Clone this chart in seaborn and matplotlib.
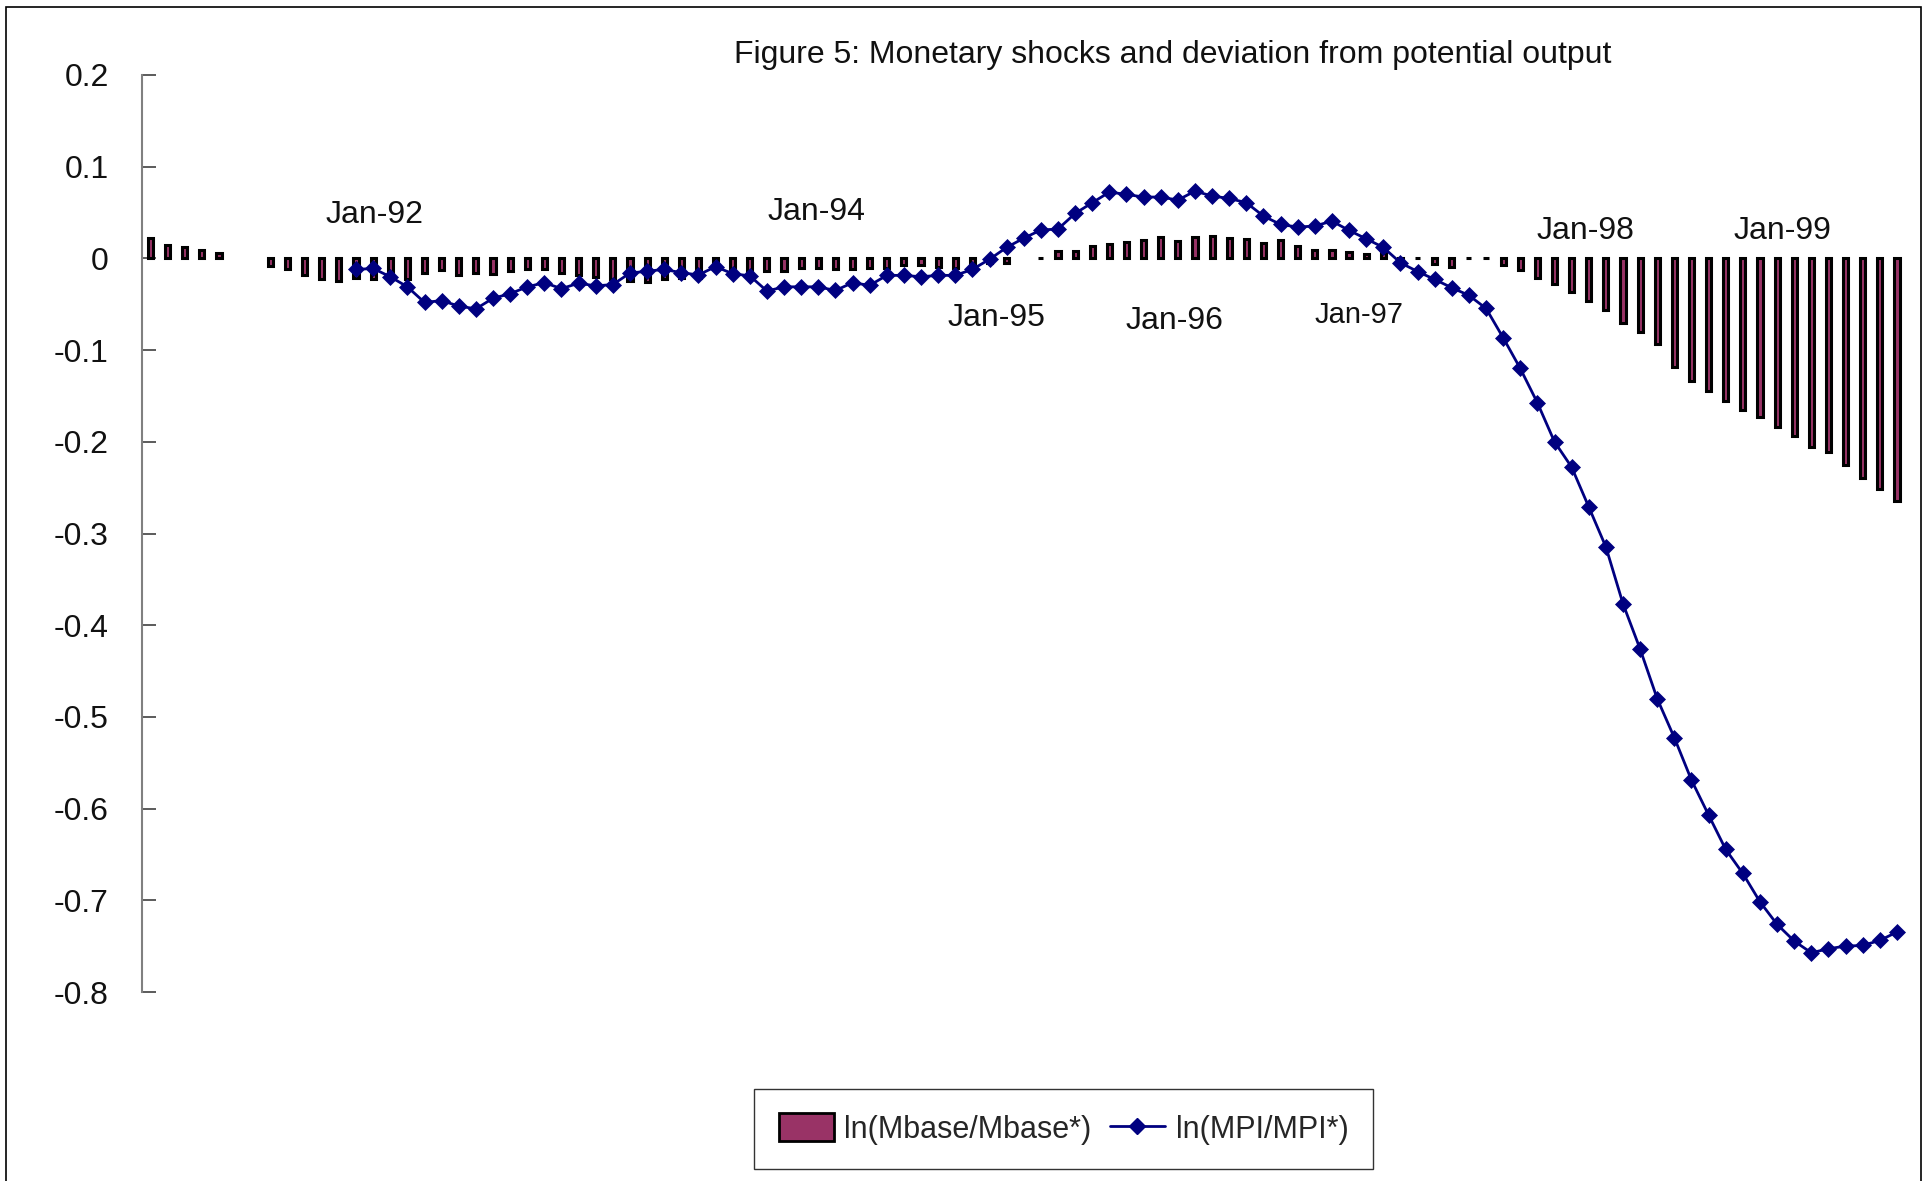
import numpy as np
import pandas as pd
import matplotlib
matplotlib.use("Agg")
import matplotlib.pyplot as plt
from matplotlib.patches import Patch, Rectangle
from matplotlib.lines import Line2D
import seaborn as sns

mbase_gap = [
    0.022, 0.0145, 0.012, 0.0087, 0.0058, np.nan, np.nan, -0.008, -0.012, -0.0185,
    -0.022, -0.025, -0.021, -0.022, -0.021, -0.022, -0.016, -0.0125, -0.0185, -0.0155,
    -0.017, -0.014, -0.012, -0.0115, -0.016, -0.018, -0.02, -0.0225, -0.025, -0.026,
    -0.023, -0.021, -0.021, -0.011, -0.016, -0.016, -0.014, -0.0138, -0.010, -0.010,
    -0.012, -0.012, -0.010, -0.010, -0.0076, -0.0076, -0.009, -0.010, -0.0076, -0.005,
    -0.005, np.nan, 0.0, 0.008, 0.0084, 0.013, 0.0156, 0.0175, 0.020, 0.0236,
    0.019, 0.023, 0.0247, 0.022, 0.021, 0.0167, 0.020, 0.0138, 0.009, 0.009,
    0.0065, 0.0047, 0.0055, -0.003, 0.0, -0.0065, -0.0098, 0.0, 0.0, -0.0069,
    -0.0128, -0.021, -0.028, -0.0363, -0.046, -0.056, -0.0707, -0.0805, -0.0936, -0.1185,
    -0.134, -0.145, -0.155, -0.165, -0.173, -0.184, -0.194, -0.206, -0.211, -0.225,
    -0.2395, -0.251, -0.265,
]

mpi_gap = [np.nan] * 12 + [
    -0.012, -0.011, -0.020, -0.031, -0.048, -0.046, -0.052, -0.055,
    -0.0435, -0.0385, -0.031, -0.0265, -0.033, -0.027, -0.030, -0.0285, -0.016, -0.014,
    -0.012, -0.0156, -0.018, -0.009, -0.0167, -0.019, -0.0356, -0.031, -0.031, -0.031,
    -0.035, -0.0265, -0.0294, -0.0185, -0.0185, -0.020, -0.0185, -0.0185, -0.012, -0.001,
    0.012, 0.022, 0.031, 0.032, 0.049, 0.0607, 0.0723, 0.0698, 0.0669, 0.0669,
    0.0636, 0.0734, 0.068, 0.0654, 0.0607, 0.0462, 0.037, 0.0342, 0.0353, 0.0407,
    0.0305, 0.0214, 0.012, -0.0047, -0.0143, -0.0229, -0.032, -0.0403, -0.0545, -0.0865,
    -0.120, -0.1574, -0.200, -0.2276, -0.271, -0.3146, -0.3766, -0.426, -0.4802, -0.5227,
    -0.5689, -0.607, -0.6445, -0.6707, -0.7016, -0.7262, -0.7444, -0.7572, -0.7528, -0.7499,
    -0.7492, -0.7437, -0.7346,
]

month_idx = list(range(len(mbase_gap)))

# Date labels placed inside the chart
date_labels = ["Jan-92", "Jan-94", "Jan-95", "Jan-96", "Jan-97", "Jan-98", "Jan-99"]
date_label_x = [13.1, 38.9, 49.4, 59.8, 70.6, 83.8, 95.3]
date_label_y = [0.047, 0.051, -0.065, -0.068, -0.062, 0.030, 0.030]

y_ticks = [0.2, 0.1, 0, -0.1, -0.2, -0.3, -0.4, -0.5, -0.6, -0.7, -0.8]

bar_color = "#993366"
line_color = "#000080"

sns.set_style("white")
plt.rcParams["font.family"] = ["Liberation Sans", "DejaVu Sans"]

df = pd.DataFrame({"month": month_idx, "mbase": mbase_gap, "mpi": mpi_gap})

fig = plt.figure(figsize=(19.3, 11.81), dpi=100)
ax = fig.add_axes([142 / 1930, 0.16, 1763.5 / 1930, 0.7765])

sns.barplot(data=df.dropna(subset=["mbase"]), x="month", y="mbase", native_scale=True,
            width=0.3, color=bar_color, saturation=1, edgecolor="black",
            linewidth=2.2, ax=ax, zorder=2)
sns.lineplot(data=df.dropna(subset=["mpi"]), x="month", y="mpi", color=line_color,
             linewidth=2.0, marker="D", markersize=8, markeredgecolor=line_color,
             markeredgewidth=0.5, ax=ax, zorder=3)

ax.set_xlim(-0.5, 102.5)
ax.set_ylim(-0.8, 0.2)
ax.set_yticks(y_ticks)
ax.set_yticklabels(["0" if t == 0 else f"{t:g}" for t in y_ticks], fontsize=23)
ax.set_xticks([])
ax.set_xlabel("")
ax.set_ylabel("")
for side in ["top", "right", "bottom"]:
    ax.spines[side].set_visible(False)
ax.spines["left"].set_color("#808080")
ax.spines["left"].set_linewidth(1.5)
ax.tick_params(axis="y", left=True, direction="in", length=10, width=1.2,
               color="#404040", pad=24, labelcolor="#111111")
ax.patch.set_alpha(0)

for lab, lx, ly in zip(date_labels, date_label_x, date_label_y):
    fs = 21 if lab == "Jan-97" else 23
    ax.text(lx, ly, lab, ha="center", va="center", fontsize=fs, color="#111111")

fig.text(0.6078, 0.9534, "Figure 5: Monetary shocks and deviation from potential output",
         ha="center", va="center", fontsize=23, color="#111111")

handles = [
    Patch(facecolor=bar_color, edgecolor="black", linewidth=2.0, label="ln(Mbase/Mbase*)"),
    Line2D([0], [0], color=line_color, linewidth=2.0, marker="D", markersize=8,
           label="ln(MPI/MPI*)"),
]
leg = fig.legend(handles=handles, loc="center", bbox_to_anchor=(0.551, 0.044), ncol=2,
                 fontsize=22, frameon=True, fancybox=False, edgecolor="black",
                 handlelength=1.8, handleheight=1.0, handletextpad=0.35,
                 columnspacing=0.6, borderpad=0.8)
leg.get_frame().set_linewidth(1.0)

fig.add_artist(Rectangle((6 / 1930, -0.01), 1915 / 1930, 1 - 7 / 1181 + 0.01,
                         transform=fig.transFigure, fill=False, edgecolor="black",
                         linewidth=1.2))

fig.savefig("out.png", dpi=100)
